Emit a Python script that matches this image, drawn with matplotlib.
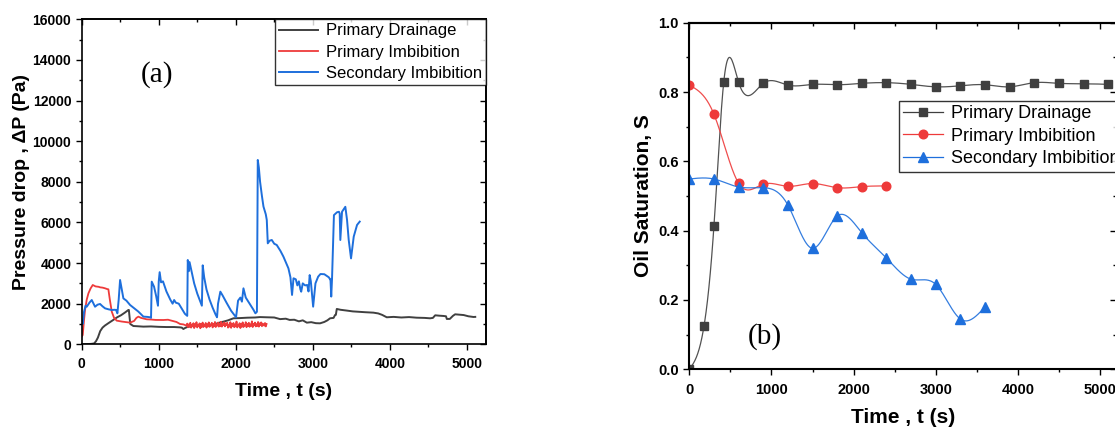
import numpy as np
import matplotlib
matplotlib.use("Agg")
import matplotlib.pyplot as plt
from matplotlib.ticker import MultipleLocator, FormatStrFormatter

plt.rcParams['font.family'] = ['Liberation Sans', 'DejaVu Sans']

# ---- panel (a): pressure drop vs time ----
drain_t = [0, 60, 120, 160, 185, 210, 240, 270, 300, 350, 410, 460, 510, 560, 606, 612, 630, 671, 720, 800,
           900, 1000, 1100, 1200, 1277, 1300, 1320, 1340, 1370, 1406, 1450, 1500, 1560, 1620, 1710, 1760,
           1800, 1840, 1900, 1970, 2050, 2150, 2250, 2316, 2400, 2500, 2576, 2650, 2700, 2760, 2820, 2870,
           2923, 2980, 3040, 3095, 3150, 3190, 3225, 3270, 3290, 3300, 3312, 3360, 3442, 3520, 3600, 3680,
           3788, 3850, 3900, 3961, 4050, 4150, 4250, 4350, 4450, 4524, 4560, 4590, 4640, 4698, 4730, 4741,
           4780, 4820, 4849, 4900, 4960, 5020, 5087, 5110]
drain_p = [0, 10, 20, 40, 150, 330, 650, 820, 920, 1050, 1200, 1330, 1430, 1560, 1690, 1690, 1000, 900, 890, 870,
           880, 860, 850, 850, 834, 820, 753, 800, 850, 880, 900, 930, 960, 950, 980, 1030,
           1080, 1115, 1180, 1280, 1290, 1310, 1320, 1340, 1330, 1320, 1240, 1260, 1200, 1210, 1130, 1180,
           1066, 1090, 1040, 1033, 1100, 1180, 1280, 1300, 1444, 1450, 1740, 1700, 1660, 1620, 1600, 1580,
           1558, 1520, 1450, 1330, 1350, 1320, 1340, 1310, 1300, 1280, 1300, 1428, 1410, 1395, 1380, 1247,
           1250, 1400, 1477, 1460, 1440, 1380, 1345, 1350]

red_t = [0, 13, 30, 43, 65, 87, 115, 143, 180, 220, 238, 270, 300, 330, 346, 365, 390, 420, 454, 520, 580, 628,
         680, 710, 736, 770, 844, 900, 960, 1060, 1120, 1180, 1230, 1277, 1320, 1360] + list(range(1370, 2401, 10))
red_p = [380, 458, 1200, 1688, 2200, 2510, 2750, 2920, 2850, 2830, 2805, 2790, 2760, 2720, 2707, 2200, 1608, 1300,
         1165, 1120, 1090, 1066, 1150, 1300, 1362, 1300, 1230, 1220, 1200, 1196, 1210, 1150, 1100, 1000, 980, 920,
         1020, 840, 980, 870, 1060, 820, 950, 900, 1040, 800, 990, 880, 1090, 830, 960, 910, 1030, 790,
         1010, 860, 1070, 850, 940, 920, 1050, 820, 990, 880, 1080, 860, 970, 930, 1060, 830, 1010, 900,
         1100, 850, 980, 920, 1070, 870, 1020, 890, 1110, 870, 990, 940, 1080, 880, 1030, 950, 1060, 820,
         940, 870, 1090, 810, 1000, 900, 1050, 840, 970, 880, 1120, 830, 960, 920, 1040, 800, 1010, 870,
         1080, 850, 950, 930, 1090, 840, 1000, 890, 1060, 860, 980, 910, 1130, 850, 1010, 940, 1070, 880,
         990, 900, 1100, 870, 1030, 950, 1080, 890, 1020, 960, 920, 1050, 880, 1000]

sec_t = [0, 13, 30, 50, 65, 100, 130, 173, 205, 238, 270, 303, 350, 390, 430, 446, 463, 480, 498, 520, 541, 580,
         628, 680, 736, 801, 850, 887, 900, 909, 925, 939, 965, 980, 990, 1000, 1012, 1030, 1055, 1100, 1150,
         1180, 1200, 1222, 1260, 1300, 1340, 1370, 1377, 1390, 1400, 1420, 1460, 1500, 1540, 1560, 1571,
         1590, 1620, 1660, 1700, 1740, 1757, 1770, 1800, 1830, 1880, 1940, 2004, 2030, 2060, 2080, 2100,
         2130, 2180, 2230, 2255, 2275, 2286, 2300, 2316, 2340, 2360, 2390, 2403, 2416, 2440, 2468, 2500,
         2532, 2580, 2619, 2660, 2684, 2710, 2720, 2731, 2750, 2780, 2800, 2820, 2840, 2850, 2870, 2900,
         2928, 2945, 2960, 2975, 2990, 3005, 3035, 3070, 3100, 3150, 3208, 3225, 3230, 3240, 3250, 3275,
         3315, 3340, 3350, 3358, 3380, 3423, 3445, 3467, 3497, 3515, 3532, 3575, 3610]
sec_p = [1150, 1000, 1600, 1900, 1850, 2050, 2180, 1850, 1950, 1985, 1870, 1770, 1720, 1690, 1700, 1690, 1525,
         2200, 3165, 2700, 2260, 2150, 1935, 1780, 1608, 1362, 1350, 1330, 1300, 3084, 2950, 2838, 2400, 2100,
         1900, 3100, 3550, 3050, 3100, 2600, 2200, 2000, 2180, 2050, 2000, 1750, 1500, 1400, 4150, 3600, 4050,
         3700, 3000, 2500, 2100, 1900, 3888, 3300, 2700, 2200, 1800, 1450, 1330, 2000, 2592, 2400, 2050, 1650,
         1330, 2150, 2300, 2100, 2756, 2300, 2000, 1700, 1525, 1600, 9075, 8700, 8000, 7300, 6780, 6400,
         6120, 4970, 5100, 5136, 4950, 4890, 4600, 4316, 3950, 3740, 3300, 2900, 2430, 3250, 3200, 2900,
         3100, 2700, 2590, 3000, 2900, 2920, 2600, 3410, 3100, 2500, 1853, 3000, 3330, 3460, 3450, 3300,
         3200, 3200, 2350, 3200, 6360, 6500, 6525, 6440, 5135, 6525, 6770, 6130, 5135, 4230, 4800, 5300,
         5875, 6040]

# ---- panel (b): oil saturation vs time ----
sat_drain_t = [0, 180, 300, 420, 600, 900, 1200, 1500, 1800, 2100, 2400, 2700, 3000, 3300, 3600, 3900, 4200,
               4500, 4800, 5100]
sat_drain = [0.0, 0.126, 0.413, 0.830, 0.828, 0.825, 0.820, 0.822, 0.821, 0.825, 0.827, 0.822, 0.815, 0.818,
             0.821, 0.815, 0.827, 0.825, 0.824, 0.822]
sat_imb_t = [0, 300, 600, 900, 1200, 1500, 1800, 2100, 2400]
sat_imb = [0.820, 0.736, 0.537, 0.534, 0.528, 0.536, 0.524, 0.527, 0.529]
sat_sec_t = [0, 300, 600, 900, 1200, 1500, 1800, 2100, 2400, 2700, 3000, 3300, 3600]
sat_sec = [0.549, 0.549, 0.526, 0.524, 0.474, 0.349, 0.442, 0.394, 0.321, 0.260, 0.245, 0.145, 0.180]

series_names = ["Primary Drainage", "Primary Imbibition", "Secondary Imbibition"]
c_gray, c_red, c_blue = "#404040", "#ee3a3a", "#1e6fdc"


def natural_spline(x, y, n=600):
    # natural cubic spline, like Origin's "Spline" line connection
    x = np.asarray(x, float); y = np.asarray(y, float)
    h = np.diff(x)
    m = len(x)
    A = np.zeros((m, m)); r = np.zeros(m)
    A[0, 0] = A[-1, -1] = 1
    for i in range(1, m - 1):
        A[i, i - 1] = h[i - 1]; A[i, i] = 2 * (h[i - 1] + h[i]); A[i, i + 1] = h[i]
        r[i] = 6 * ((y[i + 1] - y[i]) / h[i] - (y[i] - y[i - 1]) / h[i - 1])
    M = np.linalg.solve(A, r)
    xs = np.linspace(x[0], x[-1], n)
    k = np.clip(np.searchsorted(x, xs) - 1, 0, m - 2)
    t0, t1 = x[k], x[k + 1]; hh = t1 - t0
    ys = (M[k] * (t1 - xs) ** 3 / (6 * hh) + M[k + 1] * (xs - t0) ** 3 / (6 * hh)
          + (y[k] / hh - M[k] * hh / 6) * (t1 - xs) + (y[k + 1] / hh - M[k + 1] * hh / 6) * (xs - t0))
    return xs, ys


def style_axes(ax, lw, xmaj, xmin, ymaj, ymin):
    for s in ax.spines.values():
        s.set_linewidth(lw)
    ax.xaxis.set_major_locator(MultipleLocator(xmaj)); ax.xaxis.set_minor_locator(MultipleLocator(xmin))
    ax.yaxis.set_major_locator(MultipleLocator(ymaj)); ax.yaxis.set_minor_locator(MultipleLocator(ymin))
    ax.tick_params(which="both", direction="out", width=1.0)
    ax.tick_params(which="major", length=4)
    ax.tick_params(which="minor", length=2.2)
    # mirrored ticks on top / right point inward, no labels
    sx = ax.secondary_xaxis("top")
    sy = ax.secondary_yaxis("right")
    sx.xaxis.set_major_locator(MultipleLocator(xmaj)); sx.xaxis.set_minor_locator(MultipleLocator(xmin))
    sy.yaxis.set_major_locator(MultipleLocator(ymaj)); sy.yaxis.set_minor_locator(MultipleLocator(ymin))
    for a in (sx, sy):
        a.tick_params(which="both", direction="in", width=1.0, labeltop=False, labelright=False)
        a.tick_params(which="major", length=4)
        a.tick_params(which="minor", length=2.2)
        for s in a.spines.values():
            s.set_linewidth(lw)


fig = plt.figure(figsize=(11.15, 4.30), dpi=100)

# panel (a)
ax1 = fig.add_axes([0.0733, 0.1993, 0.3626, 0.7558])
ax1.plot(drain_t, drain_p, color=c_gray, lw=1.4, label=series_names[0])
ax1.plot(red_t, red_p, color=c_red, lw=1.3, label=series_names[1])
ax1.plot(sec_t, sec_p, color=c_blue, lw=1.4, label=series_names[2])
ax1.set_xlim(0, 5250)
ax1.set_ylim(0, 16000)
style_axes(ax1, 1.2, 1000, 500, 2000, 1000)
ax1.tick_params(axis="both", labelsize=10, pad=3.5)
ax1.tick_params(axis="x", pad=5)
for lab in ax1.get_xticklabels() + ax1.get_yticklabels():
    lab.set_fontweight("bold")
ax1.set_xlabel("Time , t (s)", fontsize=14, fontweight="bold", labelpad=9)
ax1.set_ylabel("Pressure drop , ΔP (Pa)", fontsize=14, fontweight="bold", labelpad=2)
leg1 = ax1.legend(loc="upper right", bbox_to_anchor=(1.0, 1.0), borderaxespad=0, fontsize=12,
                  handlelength=2.35, handletextpad=0.45, labelspacing=0.38, borderpad=0.25,
                  frameon=True, fancybox=False, edgecolor="black")
leg1.get_frame().set_linewidth(1.0)
fig.text(157 / 1115, 1 - 75 / 430, "(a)", ha="center", va="center",
         fontsize=21, family="Liberation Serif")

# panel (b)
ax2 = fig.add_axes([0.6182, 0.1412, 0.3827, 0.806])
for tt, vv, col, mk, ms, name in [(sat_drain_t, sat_drain, "#3f3f3f", "s", 5.5, series_names[0]),
                                   (sat_imb_t, sat_imb, c_red, "o", 6.2, series_names[1]),
                                   (sat_sec_t, sat_sec, c_blue, "^", 7.0, series_names[2])]:
    xs, ys = natural_spline(tt, vv)
    ax2.plot(xs, ys, color=col, lw=0.9, alpha=0.9)
    ax2.plot(tt, vv, linestyle="none", marker=mk, ms=ms, color=col)
    ax2.plot([], [], color=col, lw=0.9, marker=mk, ms=ms, label=name)
ax2.set_xlim(0, 5195)
ax2.set_ylim(0, 1.0)
style_axes(ax2, 1.5, 1000, 500, 0.2, 0.1)
ax2.yaxis.set_major_formatter(FormatStrFormatter("%.1f"))
ax2.tick_params(axis="both", labelsize=10.5, pad=3.5)
ax2.tick_params(axis="x", pad=6)
for lab in ax2.get_xticklabels() + ax2.get_yticklabels():
    lab.set_fontweight("bold")
ax2.set_xlabel("Time , t (s)", fontsize=15, fontweight="bold", labelpad=8)
ax2.set_ylabel("Oil Saturation, S", fontsize=15, fontweight="bold", labelpad=4)
leg2 = ax2.legend(loc="upper left", bbox_to_anchor=(0.4907, 0.775), borderaxespad=0, fontsize=13,
                  handlelength=2.2, handletextpad=0.45, labelspacing=0.3, borderpad=0.25,
                  frameon=True, fancybox=False, edgecolor="black")
leg2.get_frame().set_linewidth(1.0)
fig.text(765 / 1115, 1 - 337 / 430, "(b)", ha="center", va="center",
         fontsize=21, family="Liberation Serif")

fig.savefig("out.png", dpi=100)
